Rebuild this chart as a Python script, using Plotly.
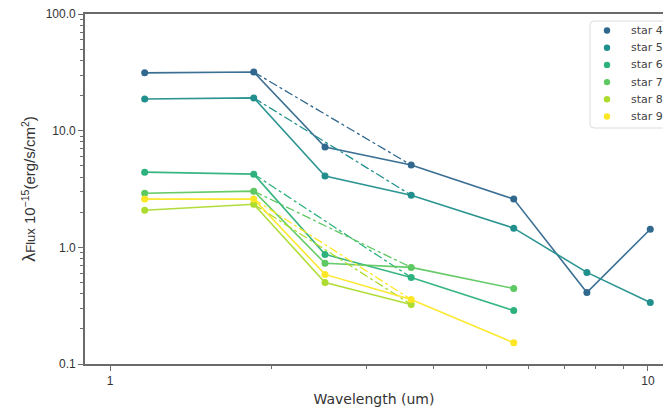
import plotly.graph_objects as go

# Photometric bands (um) and lambda*F_lambda fluxes in units of 1e-15 erg/s/cm^2
wavelength = [1.16, 1.85, 2.51, 3.63, 5.63, 7.70, 10.1]

star_names = ["star 4", "star 5", "star 6", "star 7", "star 8", "star 9"]
star_colors = ["#31688e", "#21908d", "#2db27d", "#5ec962", "#addc30", "#fde725"]

star4 = [31.3, 31.8, 7.24, 5.07, 2.59, 0.41, 1.43]
star5 = [18.7, 19.1, 4.08, 2.80, 1.46, 0.61, 0.336]
star6 = [4.41, 4.24, 0.87, 0.552, 0.287]
star7 = [2.91, 3.03, 0.73, 0.673, 0.444]
star8 = [2.08, 2.34, 0.50, 0.324]
star9 = [2.59, 2.59, 0.586, 0.357, 0.152]

fluxes = [star4, star5, star6, star7, star8, star9]

y_tickvals = [0.1, 1, 10, 100]
y_ticktext = ["0.1", "1.0", "10.0", "100.0"]
x_tickvals = [1, 10]
x_ticktext = ["1", "10"]

fig = go.Figure()

for name, color, flux in zip(star_names, star_colors, fluxes):
    wl = wavelength[:len(flux)]
    # solid SED
    fig.add_trace(go.Scatter(
        x=wl, y=flux, mode="lines", line=dict(color=color, width=1.6),
        opacity=0.95, showlegend=False, hoverinfo="skip"))
    # dash-dot link from the second to the fourth band
    fig.add_trace(go.Scatter(
        x=[wl[1], wl[3]], y=[flux[1], flux[3]], mode="lines",
        line=dict(color=color, width=1.3, dash="dashdot"),
        showlegend=False, hoverinfo="skip"))
    # photometric points
    fig.add_trace(go.Scatter(
        x=wl, y=flux, mode="markers", name=name, showlegend=False,
        marker=dict(color=color, size=7)))

# ---- compact legend box (drawn with shapes + annotations) ----
PLOT_L, PLOT_T, PLOT_W, PLOT_H = 85, 14, 578, 350


def px_x(p):
    return (p - PLOT_L) / PLOT_W


def px_y(p):
    return 1 - (p - PLOT_T) / PLOT_H


box_l, box_t, box_b, box_r = 590, 21, 128, 680
rx, ry = 4 / PLOT_W, 4 / PLOT_H
x0, x1, y0, y1 = px_x(box_l), px_x(box_r), px_y(box_b), px_y(box_t)
legend_path = (
    f"M {x0 + rx},{y1} L {x1},{y1} L {x1},{y0} L {x0 + rx},{y0} "
    f"Q {x0},{y0} {x0},{y0 + ry} L {x0},{y1 - ry} Q {x0},{y1} {x0 + rx},{y1} Z"
)
shapes = [dict(type="path", path=legend_path, xref="paper", yref="paper",
               fillcolor="white", line=dict(color="#dcdcdc", width=1), layer="above")]
annotations = []
row0, row_step = 30.5, 17.2
for i, (name, color) in enumerate(zip(star_names, star_colors)):
    yc = px_y(row0 + i * row_step)
    shapes.append(dict(
        type="circle", xref="paper", yref="paper",
        xsizemode="pixel", ysizemode="pixel",
        xanchor=px_x(607), yanchor=yc, x0=-3.2, x1=3.2, y0=-3.2, y1=3.2,
        fillcolor=color, line=dict(color=color, width=0), layer="above"))
    annotations.append(dict(
        text=name, xref="paper", yref="paper", x=px_x(629), y=yc,
        xanchor="left", yanchor="middle", showarrow=False,
        font=dict(family="DejaVu Sans, sans-serif", size=11, color="#444444")))

axis_color = "#6b6b6b"
minor_y = [v * m for v in (0.1, 1, 10) for m in range(2, 10)]
minor_x = [float(m) for m in range(2, 10)]

fig.update_layout(
    width=663, height=409,
    margin=dict(l=PLOT_L, r=0, t=PLOT_T, b=45),
    paper_bgcolor="white", plot_bgcolor="white",
    font=dict(family="DejaVu Sans, sans-serif", color="#333333", size=12),
    showlegend=False,
    shapes=shapes,
    annotations=annotations,
    xaxis=dict(
        type="log", range=[-0.0465, 1.028],
        tickmode="array", tickvals=x_tickvals, ticktext=x_ticktext,
        ticks="outside", ticklen=5, tickwidth=1.2, tickcolor=axis_color,
        minor=dict(tickmode="array", tickvals=minor_x, ticks="outside",
                   ticklen=3, tickwidth=1, tickcolor=axis_color),
        showline=True, linecolor=axis_color, linewidth=1.8, mirror=True,
        showgrid=False, zeroline=False,
        tickfont=dict(family="Liberation Sans, Arial, sans-serif", size=12, color="#333333"),
        title=dict(text="Wavelength (um)",
                   font=dict(family="DejaVu Sans, sans-serif", size=14, color="#333333"),
                   standoff=7),
    ),
    yaxis=dict(
        type="log", range=[-1, 2],
        tickmode="array", tickvals=y_tickvals, ticktext=y_ticktext,
        ticks="outside", ticklen=5, tickwidth=1.2, tickcolor=axis_color,
        minor=dict(tickmode="array", tickvals=minor_y, ticks="outside",
                   ticklen=3, tickwidth=1, tickcolor=axis_color),
        showline=True, linecolor=axis_color, linewidth=1.8,
        showgrid=False, zeroline=False,
        tickfont=dict(family="Liberation Sans, Arial, sans-serif", size=12, color="#333333"),
        title=dict(
            text="<span style='font-size:18px'>λ</span><span style='font-size:13px'>Flux</span> 10<sup>−15</sup>(erg/s/cm<sup>2</sup>)",
            font=dict(family="Liberation Sans, Arial, sans-serif", size=15, color="#333333"),
            standoff=6),
    ),
)

fig.write_html("out.html")
